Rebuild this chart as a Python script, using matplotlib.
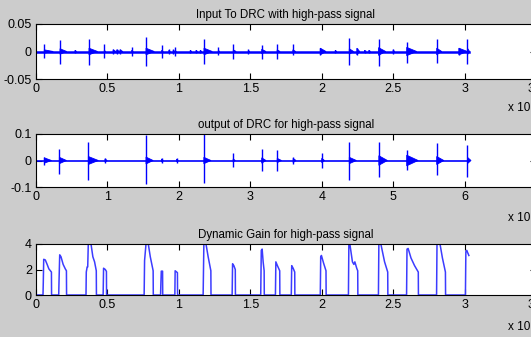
import matplotlib
matplotlib.use('Agg')
import matplotlib.pyplot as plt

plt.rcParams['font.family'] = ['Liberation Sans', 'DejaVu Sans']
plt.rcParams['font.size'] = 8

# ---- input to DRC (bursts: time, peak up, peak down, tail length, tail half-height)
in_t  = [0.058, 0.168, 0.273, 0.371, 0.478, 0.54, 0.565, 0.588, 0.67, 0.77, 0.88, 0.93, 0.96,
         0.973, 1.08, 1.12, 1.15, 1.176, 1.276, 1.381, 1.486, 1.58, 1.688, 1.798, 1.99, 2.095,
         2.193, 2.246, 2.3, 2.33, 2.398, 2.5, 2.595, 2.805, 2.96, 3.02]
in_up = [0.014, 0.021, 0.003, 0.023, 0.014, 0.005, 0.005, 0.005, 0.009, 0.027, 0.0125, 0.004, 0.004,
         0.009, 0.003, 0.003, 0.003, 0.022, 0.0075, 0.0137, 0.005, 0.0125, 0.0137, 0.0137, 0.006, 0.003,
         0.024, 0.006, 0.003, 0.003, 0.022, 0.005, 0.0175, 0.022, 0.006, 0.022]
in_dn = [0.0125, 0.022, 0.003, 0.025, 0.0125, 0.005, 0.005, 0.005, 0.009, 0.027, 0.011, 0.004, 0.004,
         0.008, 0.003, 0.003, 0.003, 0.023, 0.006, 0.0144, 0.005, 0.0144, 0.0144, 0.0063, 0.006, 0.003,
         0.025, 0.006, 0.003, 0.003, 0.026, 0.005, 0.02, 0.02, 0.006, 0.022]
in_w  = [0.063, 0.047, 0.01, 0.06, 0.01, 0.02, 0.02, 0.02, 0.01, 0.058, 0.01, 0.01, 0.01,
         0.01, 0.01, 0.01, 0.01, 0.058, 0.01, 0.02, 0.01, 0.03, 0.02, 0.02, 0.04, 0.01,
         0.03, 0.02, 0.01, 0.01, 0.05, 0.01, 0.07, 0.035, 0.06, 0.015]
in_h  = [0.003, 0.005, 0.002, 0.006, 0.002, 0.003, 0.003, 0.003, 0.002, 0.006, 0.002, 0.002, 0.002,
         0.002, 0.002, 0.002, 0.002, 0.006, 0.002, 0.003, 0.002, 0.004, 0.003, 0.003, 0.006, 0.002,
         0.005, 0.006, 0.002, 0.002, 0.007, 0.003, 0.0075, 0.006, 0.006, 0.006]

# ---- output of DRC
out_t  = [0.117, 0.327, 0.733, 0.966, 1.54, 1.76, 1.97, 2.35, 2.76, 3.16, 3.377, 3.6, 4.0,
          4.386, 4.8, 5.19, 5.61, 6.04]
out_up = [0.015, 0.044, 0.069, 0.01, 0.095, 0.01, 0.008, 0.099, 0.028, 0.044, 0.038, 0.015, 0.028,
          0.069, 0.069, 0.041, 0.067, 0.06]
out_dn = [0.017, 0.051, 0.072, 0.01, 0.087, 0.01, 0.008, 0.085, 0.026, 0.038, 0.038, 0.015, 0.03,
          0.072, 0.061, 0.036, 0.055, 0.061]
out_w  = [0.1, 0.1, 0.14, 0.03, 0.1, 0.02, 0.02, 0.1, 0.03, 0.06, 0.06, 0.04, 0.04,
          0.1, 0.12, 0.16, 0.1, 0.05]
out_h  = [0.01, 0.012, 0.015, 0.006, 0.013, 0.006, 0.005, 0.012, 0.006, 0.01, 0.008, 0.008, 0.008,
          0.012, 0.018, 0.02, 0.015, 0.012]

# ---- dynamic gain
gain_t = [0, 0.049, 0.051, 0.054, 0.065, 0.078, 0.09, 0.108, 0.109,
          0.159, 0.161, 0.166, 0.175, 0.19, 0.205, 0.213, 0.214,
          0.35, 0.352, 0.358, 0.362, 0.366, 0.385, 0.398, 0.41, 0.422, 0.423,
          0.47, 0.473, 0.485, 0.493, 0.494,
          0.757, 0.76, 0.77, 0.786, 0.80, 0.82, 0.821,
          0.872, 0.874, 0.877, 0.886, 0.887,
          0.972, 0.974, 0.985, 0.99, 0.991,
          1.17, 1.175, 1.19, 1.205, 1.224, 1.225,
          1.373, 1.376, 1.385, 1.395, 1.396,
          1.573, 1.577, 1.583, 1.59, 1.597, 1.598,
          1.676, 1.679, 1.69, 1.706, 1.707,
          1.787, 1.79, 1.80, 1.811, 1.812,
          1.99, 1.993, 1.998, 2.013, 2.03, 2.031,
          2.187, 2.19, 2.197, 2.215, 2.225, 2.232, 2.245, 2.252, 2.253,
          2.397, 2.4, 2.414, 2.44, 2.462, 2.463,
          2.594, 2.597, 2.605, 2.625, 2.65, 2.676, 2.677,
          2.804, 2.807, 2.828, 2.845, 2.866, 2.867,
          3.006, 3.009, 3.015, 3.03]
gain_v = [0, 0, 1.0, 2.8, 2.75, 2.4, 2.05, 1.8, 0,
          0, 1.0, 3.15, 3.0, 2.4, 2.05, 1.9, 0,
          0, 1.8, 2.2, 2.2, 4.0, 4.0, 3.0, 2.6, 1.9, 0,
          0, 2.1, 2.0, 1.85, 0,
          0, 2.7, 4.0, 4.0, 3.0, 1.9, 0,
          0, 0.85, 1.87, 1.87, 0,
          0, 1.9, 1.8, 1.75, 0,
          0, 4.0, 4.0, 3.0, 1.9, 0,
          0, 2.45, 2.3, 2.0, 0,
          0, 3.5, 3.6, 2.6, 1.9, 0,
          0, 2.6, 2.3, 1.9, 0,
          0, 2.3, 2.1, 1.8, 0,
          0, 3.0, 3.1, 2.5, 1.9, 0,
          0, 4.0, 4.0, 2.6, 2.4, 2.6, 2.1, 1.9, 0,
          0, 4.0, 4.0, 2.6, 1.8, 0,
          0, 3.6, 3.65, 2.9, 2.3, 1.8, 0,
          0, 4.0, 4.0, 2.9, 1.8, 0,
          0, 3.4, 3.5, 3.1]

titles = ['Input To DRC with high-pass signal',
          'output of DRC for high-pass signal',
          'Dynamic Gain for high-pass signal']
x_ticks = [[0, 0.5, 1, 1.5, 2, 2.5, 3, 3.5], [0, 1, 2, 3, 4, 5, 6, 7], [0, 0.5, 1, 1.5, 2, 2.5, 3, 3.5]]
x_labels = [['0', '0.5', '1', '1.5', '2', '2.5', '3', '3.5'],
            ['0', '1', '2', '3', '4', '5', '6', '7'],
            ['0', '0.5', '1', '1.5', '2', '2.5', '3', '3.5']]
y_ticks = [[-0.05, 0, 0.05], [-0.1, 0, 0.1], [0, 2, 4]]
y_labels = [['-0.05', '0', '0.05'], ['-0.1', '0', '0.1'], ['0', '2', '4']]


def draw_bursts(ax, t, up, dn, w, h, end, base_lw):
    ax.plot([0, end], [0, 0], color='#0000ff', lw=base_lw)
    ax.vlines(t, [-d for d in dn], up, color='#0000ff', lw=1)
    for ti, wi, hi in zip(t, w, h):
        ax.fill([ti, ti + 0.3 * wi, ti + wi, ti + 0.3 * wi, ti],
                [hi, 0.7 * hi, 0, -0.7 * hi, -hi], color='#0000ff', lw=0.6)


fig = plt.figure(figsize=(5.31, 3.37), dpi=100, facecolor='#cccccc')

# axes run past the right edge, like the cropped original
boxes = [(24, 79), (134, 187), (244, 295)]
axs = []
for top, bot in boxes:
    axs.append(fig.add_axes([36 / 531, 1 - bot / 337, 500 / 531, (bot - top) / 337]))

draw_bursts(axs[0], in_t, in_up, in_dn, in_w, in_h, 3.03, 1.8)
draw_bursts(axs[1], out_t, out_up, out_dn, out_w, out_h, 6.06, 1.2)
axs[2].plot(gain_t, gain_v, color='#3c3cff', lw=1.1)

xlims = [(0, 3.5), (0, 7), (0, 3.5)]
ylims = [(-0.05, 0.05), (-0.1, 0.1), (0, 4)]
for i, ax in enumerate(axs):
    ax.set_xlim(*xlims[i])
    ax.set_ylim(*ylims[i])
    ax.set_xticks(x_ticks[i])
    ax.set_xticklabels(x_labels[i])
    ax.set_yticks(y_ticks[i])
    ax.set_yticklabels(y_labels[i])
    ax.tick_params(direction='in', length=4, width=0.8, top=True, right=True, pad=3,
                   labelsize=9)
    for s in ax.spines.values():
        s.set_linewidth(0.8)
    ax.set_title(titles[i], fontsize=8.3, pad=4)

for yy in [108, 218, 327]:
    fig.text(508 / 531, 1 - yy / 337, 'x 10', fontsize=8.5, va='center', ha='left')

plt.savefig('out.png', dpi=100, facecolor=fig.get_facecolor())
